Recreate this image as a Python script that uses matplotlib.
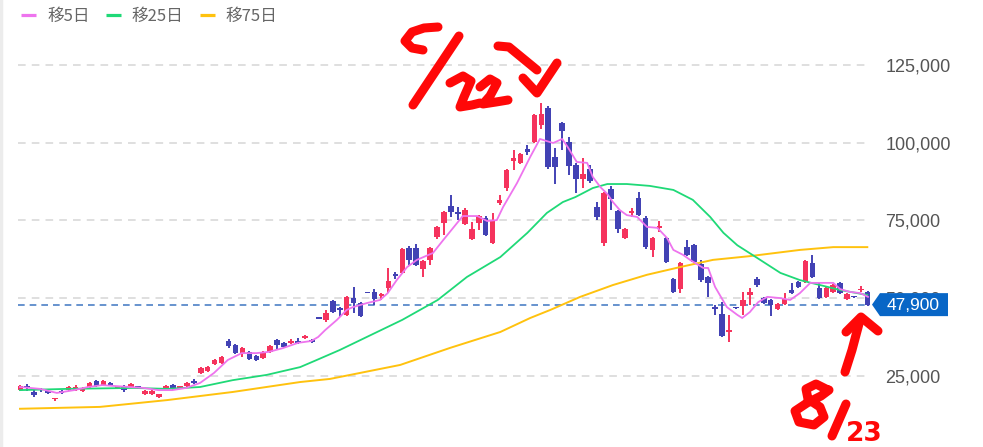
import matplotlib
matplotlib.use('Agg')
import matplotlib.pyplot as plt
from matplotlib.patches import Polygon

plt.rcParams['font.family'] = ['Liberation Sans', 'Noto Sans CJK JP', 'DejaVu Sans']

# ---- data (prices in thousands of yen) ----
opens = [20.4, 21.7, 19.8, 20.8, 20.1, 17.5, 20.1, 20.4, 20.4, 20.1,
         21.4, 23.3, 22.0, 22.7, 21.1, 21.7, 21.4, 21.4, 19.1, 19.1,
         18.2, 21.1, 22.0, 21.1, 21.7, 23.3, 25.9, 26.5, 28.8, 29.1,
         36.2, 34.9, 32.4, 32.7, 31.4, 30.7, 32.7, 36.5, 35.6, 35.6,
         36.2, 37.2, 36.5, 43.6, 43.0, 49.1, 46.8, 44.6, 50.0, 48.4,
         51.8, 52.0, 50.7, 53.2, 57.5, 58.1, 66.1, 66.1, 59.4, 62.3,
         69.7, 74.2, 79.6, 77.5, 73.8, 69.0, 74.2, 75.8, 67.7, 80.6,
         85.4, 94.1, 93.5, 98.0, 100.2, 105.7, 111.2, 95.4, 106.3, 100.2,
         92.8, 88.3, 91.5, 79.3, 67.7, 85.1, 78.0, 69.3, 77.4, 82.2,
         75.8, 65.5, 72.6, 69.3, 56.1, 52.9, 66.4, 67.1, 61.0, 56.8,
         47.1, 44.9, 39.1, 46.9, 47.5, 51.0, 56.1, 50.0, 49.4, 46.5,
         48.1, 52.6, 55.2, 55.2, 61.3, 53.2, 50.4, 52.0, 54.9, 49.7,
         50.5, 52.5, 52.0]
highs = [22.0, 22.3, 20.4, 21.1, 20.4, 17.9, 20.4, 21.7, 22.0, 21.4,
         23.0, 23.6, 23.6, 23.0, 21.8, 22.0, 22.6, 21.7, 20.3, 20.3,
         19.3, 22.0, 22.3, 21.7, 23.0, 24.0, 27.8, 28.2, 30.4, 31.4,
         36.8, 35.2, 34.3, 33.0, 31.7, 33.0, 34.9, 36.8, 35.9, 36.8,
         37.2, 38.1, 36.8, 43.7, 46.2, 49.4, 47.1, 50.7, 53.6, 48.7,
         51.9, 52.9, 51.6, 59.7, 58.4, 66.1, 66.8, 67.4, 62.3, 66.4,
         73.2, 78.0, 83.2, 79.3, 79.0, 74.5, 76.8, 76.4, 77.4, 83.2,
         91.5, 97.7, 96.7, 99.3, 109.2, 112.8, 111.8, 98.3, 106.6, 101.8,
         93.5, 95.1, 92.8, 80.9, 84.1, 86.1, 78.3, 72.5, 79.0, 84.1,
         76.4, 69.7, 74.8, 69.7, 56.5, 61.6, 68.7, 67.4, 62.3, 57.1,
         47.8, 48.7, 44.6, 47.0, 52.0, 53.2, 56.8, 50.4, 49.7, 48.4,
         51.6, 54.9, 55.5, 62.3, 63.9, 54.9, 53.6, 54.5, 55.2, 51.6,
         50.7, 53.9, 52.3]
lows = [20.1, 20.1, 18.2, 19.8, 19.1, 16.9, 19.3, 20.2, 20.2, 19.9,
        21.2, 21.5, 21.8, 21.8, 20.8, 19.8, 21.2, 20.8, 18.9, 18.9,
        17.9, 20.8, 20.5, 20.9, 21.5, 22.3, 25.6, 26.2, 28.5, 28.8,
        34.0, 32.1, 31.1, 30.1, 29.8, 30.4, 32.4, 33.6, 34.0, 35.3,
        35.3, 36.8, 35.6, 43.2, 42.3, 45.2, 43.9, 44.3, 45.2, 43.9,
        51.5, 47.8, 49.4, 51.6, 56.1, 57.8, 60.7, 60.4, 56.8, 60.7,
        69.0, 70.3, 76.1, 75.1, 73.5, 68.7, 71.9, 70.0, 67.4, 80.0,
        84.5, 91.2, 93.2, 96.0, 99.9, 104.4, 91.5, 86.7, 97.7, 89.6,
        83.8, 85.4, 87.0, 75.1, 66.8, 78.3, 70.9, 69.0, 76.1, 76.4,
        65.8, 63.2, 71.3, 61.3, 51.6, 51.6, 63.5, 61.3, 55.2, 50.4,
        44.6, 37.5, 35.9, 46.5, 44.6, 47.8, 53.6, 48.1, 44.2, 46.2,
        47.8, 51.3, 53.2, 54.9, 56.5, 49.7, 50.0, 51.6, 51.3, 49.4,
        50.0, 52.0, 47.6]
closes = [21.7, 21.1, 18.8, 20.4, 19.5, 17.8, 19.5, 21.4, 21.4, 21.1,
          22.7, 21.7, 23.3, 22.0, 21.4, 20.4, 22.3, 21.1, 20.1, 20.1,
          19.1, 21.7, 20.8, 21.4, 22.7, 22.7, 27.5, 27.8, 30.1, 31.1,
          34.6, 32.4, 34.0, 30.4, 30.1, 32.7, 34.6, 34.9, 34.3, 36.2,
          35.6, 37.8, 35.9, 43.3, 45.2, 45.5, 46.2, 50.4, 48.4, 44.2,
          51.6, 49.7, 51.3, 55.5, 57.1, 65.8, 62.3, 60.7, 61.9, 66.1,
          72.9, 77.7, 77.7, 77.1, 78.3, 72.2, 76.4, 70.3, 75.1, 81.6,
          91.2, 95.1, 96.4, 97.0, 108.9, 109.2, 92.2, 92.2, 103.8, 92.5,
          88.3, 89.9, 87.7, 76.1, 83.8, 81.9, 72.2, 72.2, 78.0, 76.8,
          66.4, 69.3, 72.9, 61.6, 52.0, 61.3, 63.9, 61.6, 55.8, 54.9,
          46.5, 37.8, 39.7, 46.7, 49.4, 52.0, 54.2, 48.4, 47.8, 48.1,
          49.7, 51.6, 53.6, 61.9, 56.8, 50.0, 53.2, 54.2, 51.6, 51.3,
          50.3, 52.9, 47.9]

ma5_x = [0, 2.9, 5.3, 7.8, 9.8, 11.8, 13.8, 15.8, 17.8, 19.9,
         21.9, 23.9, 25.9, 27.9, 29.9, 31.9, 34.0, 35.8, 37.8, 40.0,
         41.9, 42.9, 43.9, 45.6, 47.0, 47.9, 49.9, 51.8, 52.9, 54.2,
         55.7, 57.1, 59.4, 60.9, 62.9, 63.7, 65.8, 67.2, 68.6, 69.5,
         71.5, 73.4, 74.8, 75.8, 76.7, 78.0, 78.8, 80.1, 81.6, 82.4,
         83.5, 84.5, 85.3, 86.3, 87.3, 88.8, 90.2, 91.7, 93.1, 94.0,
         95.4, 96.4, 98.3, 99.0, 100.0, 101.7, 103.2, 103.9, 105.0, 106.2,
         107.5, 109.4, 110.8, 112.2, 113.7, 115.1, 117.0, 118.0, 119.4, 120.9,
         122.0]
ma5_v = [21.4, 20.8, 19.5, 20.4, 21.4, 22.0, 21.7, 21.4, 21.1, 20.4,
         20.4, 21.1, 22.7, 25.9, 30.1, 32.3, 32.3, 32.7, 33.9, 35.6,
         36.2, 37.5, 39.7, 43.0, 46.2, 47.1, 48.4, 49.4, 51.6, 55.8,
         60.0, 62.3, 64.5, 68.7, 74.2, 76.4, 76.4, 74.8, 75.1, 79.3,
         87.0, 95.4, 101.2, 100.5, 99.9, 101.2, 98.6, 93.8, 93.5, 89.0,
         85.7, 83.5, 80.9, 78.3, 76.7, 76.1, 72.9, 72.6, 69.3, 65.5,
         63.9, 62.3, 59.7, 59.7, 53.6, 47.1, 44.6, 43.6, 45.5, 48.7,
         50.4, 50.0, 49.4, 51.6, 54.9, 54.9, 54.9, 52.9, 52.0, 51.6,
         50.4]

ma25_x = [0, 6.8, 16.3, 21.2, 25.9, 30.6, 35.5, 40.3, 42.7, 46.0,
          55.0, 60.1, 64.3, 69.1, 73.0, 75.8, 78.1, 79.9, 82.4, 84.5,
          87.3, 90.6, 94.0, 96.8, 99.3, 101.2, 103.2, 106.0, 109.4, 112.2,
          115.1, 118.0, 121.9]
ma25_v = [20.4, 20.8, 21.1, 20.8, 21.4, 23.6, 25.3, 27.8, 30.1, 33.3,
          43.0, 49.4, 56.8, 63.2, 71.0, 77.4, 80.9, 82.5, 85.4, 86.7,
          86.7, 86.1, 84.8, 81.6, 76.1, 71.0, 67.0, 63.0, 58.1, 55.8,
          54.2, 52.6, 51.0]

ma75_x = [0, 11.5, 21.2, 30.6, 40.3, 44.6, 54.7, 61.9, 69.1, 73.4,
          76.3, 80.6, 85.3, 90.2, 95.0, 99.7, 105.0, 112.2, 117.0, 121.9]
ma75_v = [14.4, 15.0, 17.2, 19.8, 23.0, 24.0, 28.5, 34.0, 39.1, 43.6,
          46.2, 50.4, 54.2, 57.5, 60.0, 62.3, 63.5, 65.5, 66.4, 66.4]

ytick_vals = [25, 50, 75, 100, 125]
ytick_labels = ['25,000', '50,000', '75,000', '100,000', '125,000']
legend_labels = ['移5日', '移25日', '移75日']

# ---- styles ----
RED = '#f5335d'
BLUE = '#4242b4'
C_MA5 = '#ee74ee'
C_MA25 = '#1fd977'
C_MA75 = '#ffc20e'
W, H = 983, 447

fig = plt.figure(figsize=(W / 100, H / 100), dpi=100)
fig.patch.set_facecolor('white')

x0, x1 = 18, 870
ax = fig.add_axes([x0 / W, 0, (x1 - x0) / W, 1])
n = len(closes)
step = (868 - 20) / (n - 1)
ax.set_xlim(-(20 - x0) / step, (n - 1) + (x1 - 868) / step)
ax.set_ylim(2.1, 145.9)

for s in ax.spines.values():
    s.set_visible(False)
ax.set_xticks([])
ax.set_yticks(ytick_vals)
ax.set_yticklabels(ytick_labels)
ax.yaxis.tick_right()
ax.tick_params(axis='y', length=0, pad=11, labelsize=13, labelcolor='#555555')
ax.grid(axis='y', color='#d6d6d6', linestyle=(0, (5, 4)), linewidth=1.1)
ax.set_axisbelow(True)

xs = list(range(n))
cols = [RED if c >= o else BLUE for o, c in zip(opens, closes)]
bottoms = [min(o, c) for o, c in zip(opens, closes)]
heights = [max(abs(c - o), 0.5) for o, c in zip(opens, closes)]
ax.vlines(xs, lows, highs, colors=cols, linewidth=1.4, zorder=2)
ax.bar(xs, heights, bottom=bottoms, width=0.8, color=cols, linewidth=0, zorder=3)

ax.plot(ma75_x, ma75_v, color=C_MA75, lw=1.4, zorder=4)
ax.plot(ma25_x, ma25_v, color=C_MA25, lw=1.3, zorder=4)
ax.plot(ma5_x, ma5_v, color=C_MA5, lw=1.3, zorder=5)

ax.axhline(closes[-1], color='#4d80c6', lw=1.2, ls=(0, (4, 3)), zorder=1.5)

# ---- overlay in pixel coordinates ----
ov = fig.add_axes([0, 0, 1, 1], zorder=10)
ov.set_xlim(0, W)
ov.set_ylim(H, 0)
ov.axis('off')
ov.patch.set_alpha(0)

ov.plot([1, 1], [0, H], color='#ececec', lw=2.5)

# legend
leg_x = [21, 106, 200]
leg_cols = [C_MA5, C_MA25, C_MA75]
for lx, lc, lt in zip(leg_x, leg_cols, legend_labels):
    ov.plot([lx, lx + 15], [15, 15], color=lc, lw=2.3, solid_capstyle='butt')
    ov.text(lx + 26, 16, lt, fontsize=12, color='#666666', va='center', ha='left',
            family=['Noto Sans CJK JP', 'DejaVu Sans'])

# current price tag
fig.canvas.draw()
disp_y = ax.transData.transform((0, closes[-1]))[1]
py = H - disp_y
hh = 11.5
tag = Polygon([(872, py), (880, py - hh), (948, py - hh), (948, py + hh), (880, py + hh)],
              closed=True, facecolor='#0866c6', edgecolor='none')
ov.add_patch(tag)
ov.text(913, py + 0.5, f'{closes[-1] * 1000:,.0f}', color='white', fontsize=12.5,
        ha='center', va='center')

# hand-drawn annotations
RED_INK = '#ff0808'
strokes = [
    [(438, 27), (424, 28), (412, 32), (405, 41), (412, 48), (423, 50)],
    [(459, 36), (413, 105)],
    [(450, 83), (463, 76), (471, 81), (464, 97), (460, 107), (472, 105), (480, 103)],
    [(480, 87), (490, 79), (497, 83), (490, 96), (483, 104), (496, 102), (508, 100)],
    [(498, 46), (509, 47), (537, 70)],
    [(523, 78), (537, 93), (557, 63)],
    [(845, 372), (852, 350), (860, 320)],
    [(846, 332), (861, 317), (878, 331)],
    # "8"
    [(828, 390), (816, 384), (806, 389), (808, 399), (820, 407), (824, 417),
     (814, 425), (799, 422), (795, 411), (807, 403), (821, 396), (829, 390)],
    # "/"
    [(846, 404), (832, 436)],
]
for s in strokes:
    ov.plot([p[0] for p in s], [p[1] for p in s], color=RED_INK, lw=6.5,
            solid_capstyle='round', solid_joinstyle='round')
ov.text(864, 434, '23', color=RED_INK, fontsize=19, fontweight='bold', ha='center',
        va='center', family=['DejaVu Sans'])

fig.savefig('out.png', dpi=100, facecolor='white')
